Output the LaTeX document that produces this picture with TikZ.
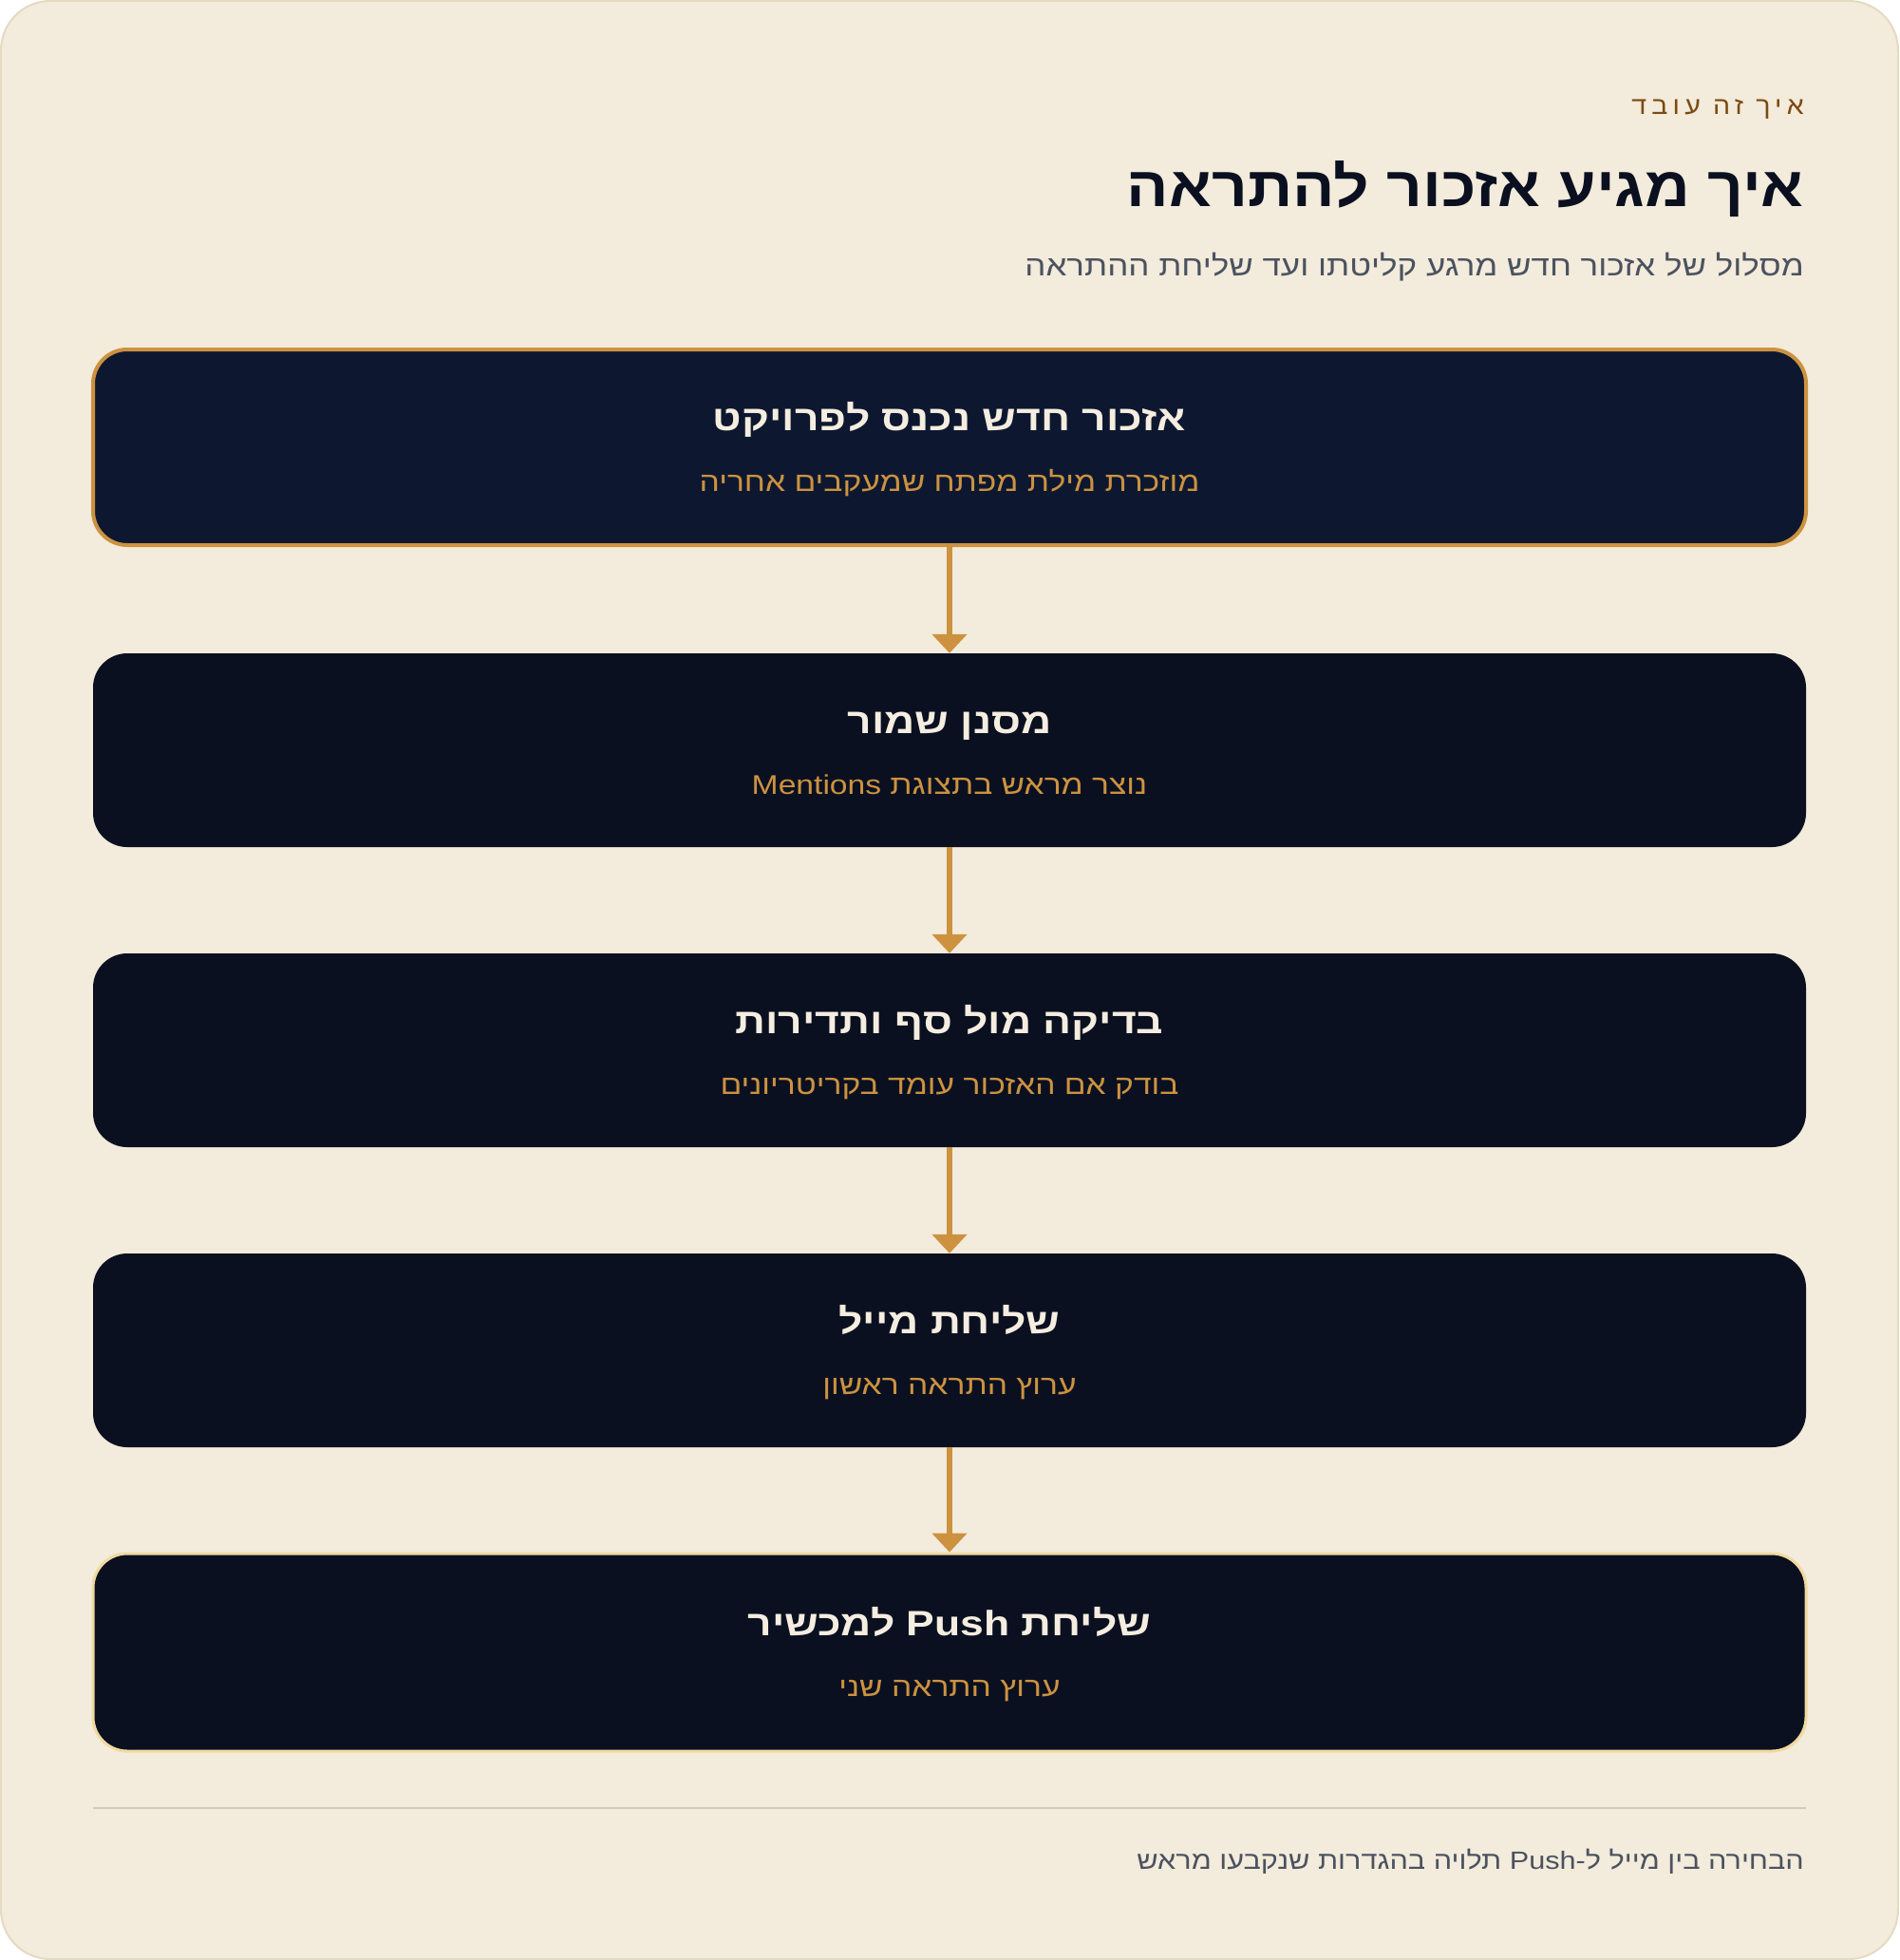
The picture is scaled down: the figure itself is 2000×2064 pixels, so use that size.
\documentclass[tikz,border=0pt]{standalone}
\usepackage{fontspec}
\setmainfont{Liberation Sans}
\newfontfamily\hebT[Script=Hebrew,FakeStretch=1.115]{Liberation Sans}
\newfontfamily\hebB[Script=Hebrew,FakeStretch=1.2]{Liberation Sans}
\newfontfamily\hebS[Script=Hebrew,FakeStretch=1.18]{Liberation Sans}
\newfontfamily\hebG[Script=Hebrew,FakeStretch=1.165]{Liberation Sans}
\newfontfamily\hebsp[Script=Hebrew,FakeStretch=1.1,LetterSpace=20]{Liberation Sans}
\TeXXeTstate=1
\usetikzlibrary{arrows.meta}
\definecolor{bg}{HTML}{F3EBDB}
\definecolor{cardline}{HTML}{E5DAC3}
\definecolor{brownc}{HTML}{7B4A12}
\definecolor{inkc}{HTML}{0A1020}
\definecolor{grayc}{HTML}{4B5260}
\definecolor{navyc}{HTML}{0D1830}
\definecolor{boxc}{HTML}{0A1020}
\definecolor{goldc}{HTML}{CC9240}
\definecolor{lightgold}{HTML}{F0D9A0}
\definecolor{creamc}{HTML}{F5EDE0}
\definecolor{sepc}{HTML}{D3CABB}
\begin{document}
\begin{tikzpicture}[x=1pt,y=-1pt,
  stepbox/.style={rounded corners=36pt, minimum width=1804pt, minimum height=204pt, fill=boxc, inner sep=0pt},
  boxtitle/.style={anchor=base, text=creamc, font=\hebB\bfseries\fontsize{37}{40}\selectfont, inner sep=0pt},
  boxsub/.style={anchor=base, text=goldc, font=\hebS\fontsize{28.5}{32}\selectfont, inner sep=0pt},
  flow/.style={draw=goldc, line width=6pt, -{Triangle[width=36pt,length=20pt]}},
  righttext/.style={anchor=base east, inner sep=0pt}]
\useasboundingbox (0,0) rectangle (2000,2064);
\path[fill=bg, draw=cardline, line width=2pt, rounded corners=52pt] (1,1) rectangle (1999,2063);

\node[righttext, text=brownc, font=\hebsp\fontsize{26}{30}\selectfont] (eyebrow) at (1900,120) {\beginR איך זה עובד\endR};
\node[righttext, text=inkc, font=\hebT\bfseries\fontsize{59}{62}\selectfont] (title) at (1900,217) {\beginR איך מגיע אזכור להתראה\endR};
\node[righttext, text=grayc, font=\hebG\fontsize{30}{34}\selectfont] (subtitle) at (1900,290) {\beginR מסלול של אזכור חדש מרגע קליטתו ועד שליחת ההתראה\endR};

\node[stepbox, fill=navyc, draw=goldc, line width=4pt, minimum height=206pt] (b1) at (1000,471) {};
\node[stepbox] (b2) at (1000,790) {};
\node[stepbox] (b3) at (1000,1106) {};
\node[stepbox] (b4) at (1000,1422) {};
\node[stepbox, draw=lightgold, line width=3pt, minimum height=208pt] (b5) at (1000,1740) {};

\node[boxtitle] (t1) at ([yshift=18pt]b1.center) {\beginR אזכור חדש נכנס לפרויקט\endR};
\node[boxsub] (s1) at ([yshift=-46pt]b1.center) {\beginR מוזכרת מילת מפתח שמעקבים אחריה\endR};
\node[boxtitle] (t2) at ([yshift=18pt]b2.center) {\beginR מסנן שמור\endR};
\node[boxsub] (s2) at ([yshift=-46pt]b2.center) {\beginR נוצר מראש בתצוגת \beginL Mentions\endL\endR};
\node[boxtitle] (t3) at ([yshift=18pt]b3.center) {\beginR בדיקה מול סף ותדירות\endR};
\node[boxsub] (s3) at ([yshift=-46pt]b3.center) {\beginR בודק אם האזכור עומד בקריטריונים\endR};
\node[boxtitle] (t4) at ([yshift=18pt]b4.center) {\beginR שליחת מייל\endR};
\node[boxsub] (s4) at ([yshift=-46pt]b4.center) {\beginR ערוץ התראה ראשון\endR};
\node[boxtitle] (t5) at ([yshift=18pt]b5.center) {\beginR שליחת \beginL Push\endL{} למכשיר\endR};
\node[boxsub] (s5) at ([yshift=-46pt]b5.center) {\beginR ערוץ התראה שני\endR};

\draw[flow] (b1.south) -- (b2.north);
\draw[flow] (b2.south) -- (b3.north);
\draw[flow] (b3.south) -- (b4.north);
\draw[flow] (b4.south) -- (b5.north);

\coordinate (sl) at (98,1904);
\coordinate (sr) at (1902,1904);
\draw[sepc, line width=2pt] (sl) -- (sr);

\node[righttext, text=grayc, font=\hebG\fontsize{26.3}{30}\selectfont] (footer) at (1900,1968) {\beginR הבחירה בין מייל ל-\beginL Push\endL{} תלויה בהגדרות שנקבעו מראש\endR};
\end{tikzpicture}
\end{document}
